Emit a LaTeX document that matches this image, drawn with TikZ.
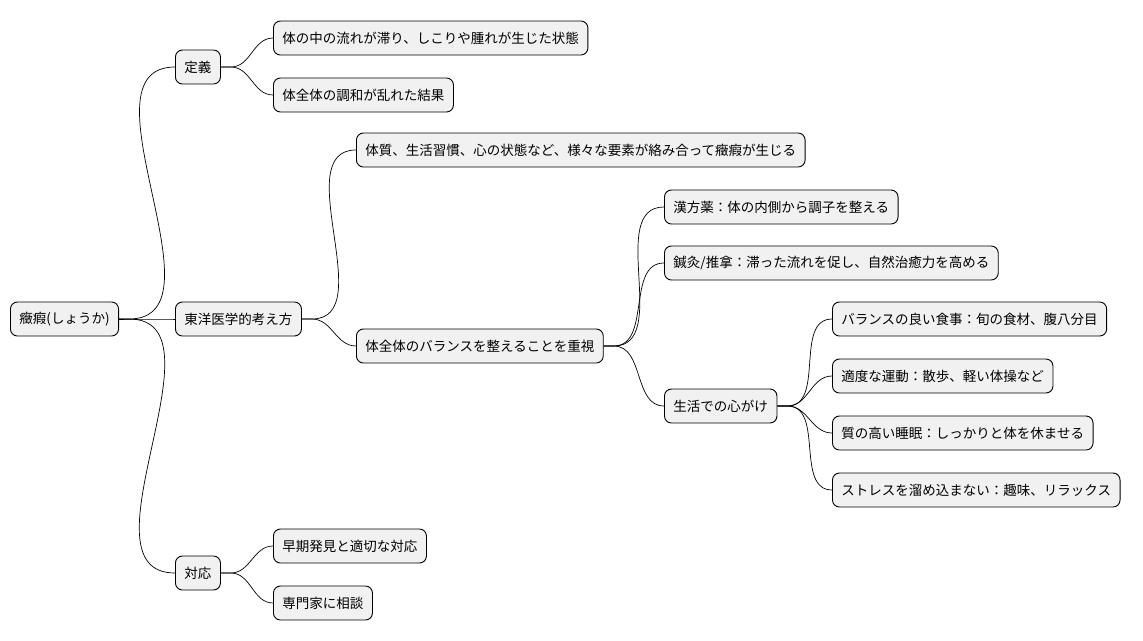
\documentclass[tikz,border=0pt]{standalone}
\usepackage{fontspec}
\setmainfont{Noto Sans CJK JP}
\begin{document}
\begin{tikzpicture}[x=1pt,y=-1pt,
 box/.style={draw=black,line width=0.9pt,fill={rgb,255:red,241;green,241;blue,241},rounded corners=7pt,anchor=west,minimum height=34pt,inner xsep=9pt,inner ysep=0pt,font=\fontsize{13.5}{16}\selectfont},
 edge/.style={line width=0.7pt}]
\useasboundingbox (0,0) rectangle (1143,640);
\node[box] (r) at (10,319) {癥瘕(しょうか)};
\node[box] (d) at (175,67) {定義};
\node[box] (d1) at (273,38) {体の中の流れが滞り、しこりや腫れが生じた状態};
\node[box] (d2) at (273,95) {体全体の調和が乱れた結果};
\node[box] (t) at (175,319) {東洋医学的考え方};
\node[box] (t1) at (356,150) {体質、生活習慣、心の状態など、様々な要素が絡み合って癥瘕が生じる};
\node[box] (t2) at (356,346) {体全体のバランスを整えることを重視};
\node[box] (k1) at (664,207) {漢方薬：体の内側から調子を整える};
\node[box] (k2) at (664,263) {鍼灸/推拿：滞った流れを促し、自然治癒力を高める};
\node[box] (k3) at (664,406) {生活での心がけ};
\node[box] (s1) at (832,319) {バランスの良い食事：旬の食材、腹八分目};
\node[box] (s2) at (832,376) {適度な運動：散歩、軽い体操など};
\node[box] (s3) at (832,433) {質の高い睡眠：しっかりと体を休ませる};
\node[box] (s4) at (832,490) {ストレスを溜め込まない：趣味、リラックス};
\node[box] (a) at (175,573) {対応};
\node[box] (a1) at (273,546) {早期発見と適切な対応};
\node[box] (a2) at (273,603) {専門家に相談};
\foreach \p/\c in {r/d,r/t,r/a,d/d1,d/d2,t/t1,t/t2,t2/k1,t2/k2,t2/k3,k3/s1,k3/s2,k3/s3,k3/s4,a/a1,a/a2}
  \draw[edge] (\p.east) -- ++(10,0) to[out=0,in=180] (\c.west);
\end{tikzpicture}
\end{document}
